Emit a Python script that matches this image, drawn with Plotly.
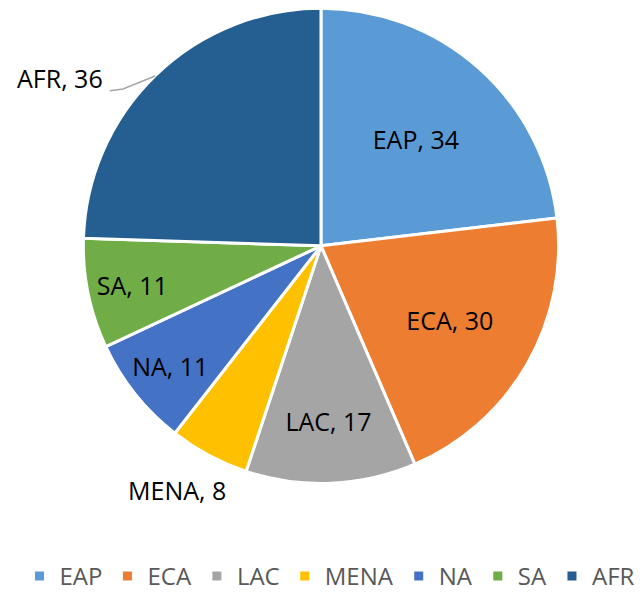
import plotly.graph_objects as go

regions = ["EAP", "ECA", "LAC", "MENA", "NA", "SA", "AFR"]
counts = [34, 30, 17, 8, 11, 11, 36]
colors = ["#5B9BD5", "#ED7D31", "#A5A5A5", "#FFC000", "#4472C4", "#70AD47", "#255E91"]

# MENA and AFR get their labels outside the pie, as annotations
outside = {"MENA": (0.262, 0.205), "AFR": (0.081, 0.884)}

texts = ["" if r in outside else f"{r}, {v}" for r, v in zip(regions, counts)]

LABEL_FONT = dict(family="Open Sans", size=25, color="black")

fig = go.Figure()
fig.add_trace(
    go.Pie(
        labels=regions,
        values=counts,
        text=texts,
        textinfo="text",
        textposition="inside",
        insidetextorientation="horizontal",
        textfont=LABEL_FONT,
        marker=dict(colors=colors, line=dict(color="white", width=3)),
        sort=False,
        direction="clockwise",
        rotation=0,
        domain=dict(x=[0.117, 0.855], y=[0.215, 1.0]),
    )
)

for r, v in zip(regions, counts):
    if r in outside:
        x, y = outside[r]
        fig.add_annotation(
            x=x, y=y, xref="paper", yref="paper",
            xanchor="center", yanchor="middle",
            text=f"{r}, {v}", showarrow=False, font=LABEL_FONT,
        )

# leader line for AFR label
fig.add_shape(
    type="path",
    path="M 0.158 0.8635 L 0.1786 0.8663 L 0.2283 0.8878",
    xref="paper", yref="paper",
    line=dict(color="#A6A6A6", width=1.5),
)

fig.update_layout(
    width=644,
    height=606,
    margin=dict(l=0, r=0, t=0, b=0),
    paper_bgcolor="white",
    showlegend=True,
    legend=dict(
        orientation="h",
        x=0.5, xanchor="center",
        y=0.062, yanchor="middle",
        font=dict(family="Open Sans", size=24, color="#595959"),
        itemwidth=30,
    ),
)

fig.write_html("out.html")
